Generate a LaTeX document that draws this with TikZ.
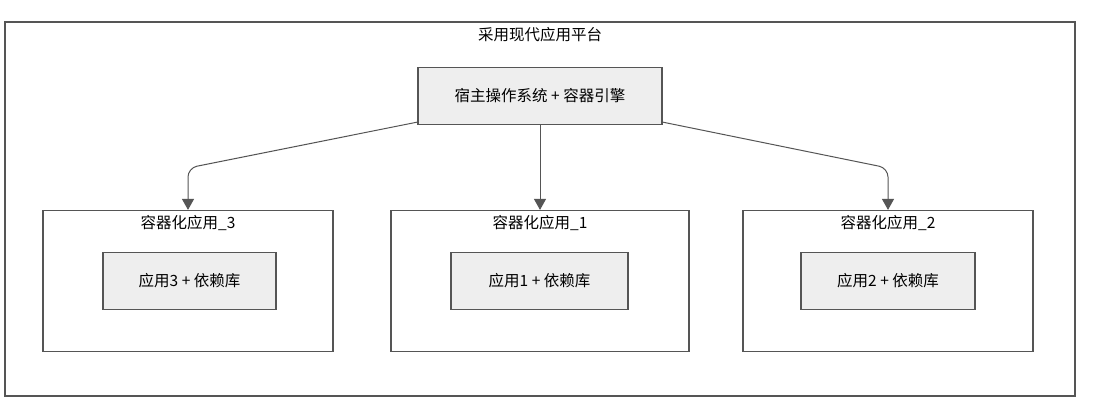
\documentclass[tikz,border=0pt]{standalone}
\usepackage{fontspec}
\newfontfamily\cjk{Noto Sans CJK SC}
\usetikzlibrary{arrows.meta}
\definecolor{linegray}{RGB}{85,85,85}
\definecolor{boxfill}{RGB}{238,238,238}
\begin{document}
\begin{tikzpicture}
      [x=1pt,y=-1pt,
      font=\cjk\fontsize{15.5}{18}\selectfont,
      frame/.style={draw=linegray,line width=1.2pt,inner sep=0pt},
      part/.style={frame,fill=boxfill,minimum height=57pt},
      arr/.style={draw=linegray,line width=1pt,rounded corners=9pt,
        -{Triangle[width=12pt,length=11pt]}}]
      \useasboundingbox[fill=white] (0,0) rectangle (1098,418);
      % outer platform
      \node[frame,minimum width=1070pt,minimum height=374pt] (platform) at (540,209) {};
      \node (title) at (540,35) {采用现代应用平台};
      \node[part,minimum width=244pt] (host) at (540,96) {宿主操作系统 + 容器引擎};
      % containers
      \node[frame,minimum width=290pt,minimum height=141pt] (box3) at (188,281) {};
      \node[frame,minimum width=298pt,minimum height=141pt] (box1) at (540,281) {};
      \node[frame,minimum width=290pt,minimum height=141pt] (box2) at (888,281) {};
      \node (label3) at (188,223) {容器化应用\_3};
      \node (label1) at (540,223) {容器化应用\_1};
      \node (label2) at (888,223) {容器化应用\_2};
      \node[part,minimum width=173pt] (app3) at (189.5,281) {应用3 + 依赖库};
      \node[part,minimum width=177pt] (app1) at (539.5,281) {应用1 + 依赖库};
      \node[part,minimum width=174pt] (app2) at (888,281) {应用2 + 依赖库};
      % arrows
      \coordinate (bend3) at (188,168);
      \coordinate (bend2) at (888,168);
      \draw[arr] ([yshift=3pt]host.south west) -- (bend3) -- (box3.north);
      \draw[arr] (host.south) -- (box1.north);
      \draw[arr] ([yshift=3pt]host.south east) -- (bend2) -- (box2.north);
    \end{tikzpicture}
\end{document}
